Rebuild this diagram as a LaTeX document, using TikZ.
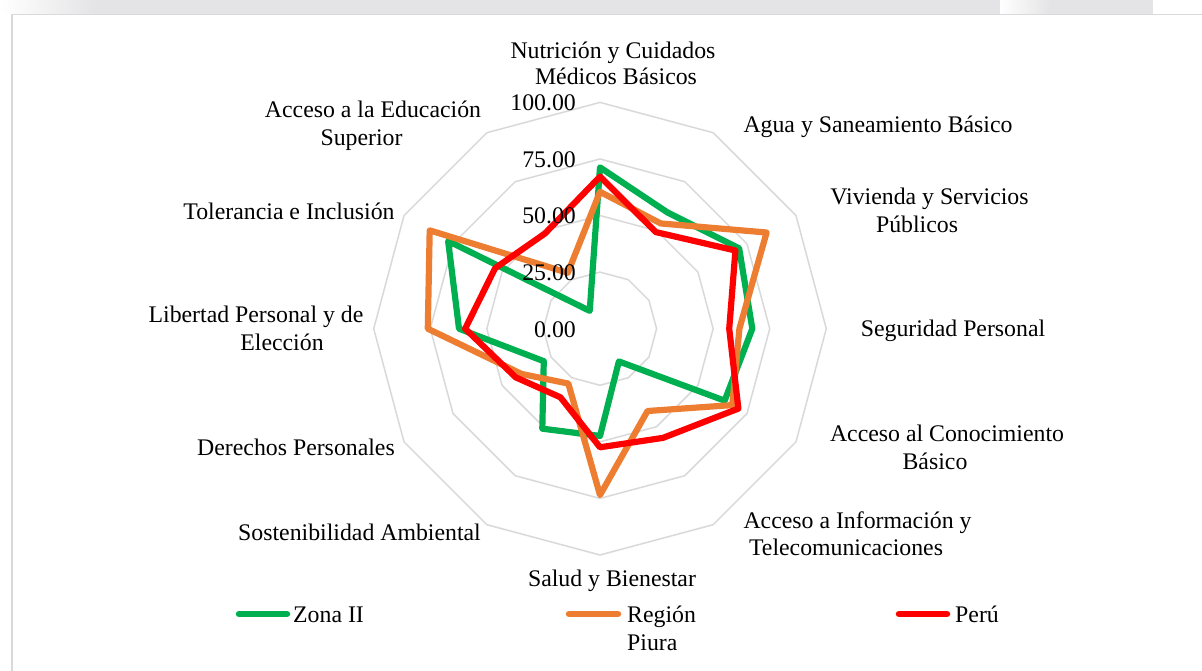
\documentclass[tikz,border=0pt]{standalone}
\usepackage{fontspec}
\setmainfont{Liberation Serif}
\definecolor{zgreen}{HTML}{00B050}
\definecolor{zorange}{HTML}{ED7D31}
\definecolor{zred}{HTML}{FF0000}
\definecolor{gridgray}{HTML}{D9D9D9}
\definecolor{bandgray}{HTML}{E4E4E6}
\begin{document}
\begin{tikzpicture}[x=1pt,y=-1pt,
  lab/.style={font=\fontsize{23.8}{27}\selectfont, inner sep=0pt, anchor=base},
  tick/.style={font=\fontsize{23.8}{27}\selectfont, inner sep=0pt, anchor=base east},
  ring/.style={draw=gridgray, line width=1.5pt, line join=miter},
  series/.style={line width=6.2pt, line join=round},
  legline/.style={line width=6.5pt, line cap=round}]
\useasboundingbox (0,0) rectangle (1202,671);
\clip (0,0) rectangle (1202,671);
\fill[white] (0,0) rectangle (1202,671);
% faded band above the chart
\fill[bandgray] (95,0) rectangle (1000,14);
\shade[left color=white, right color=bandgray] (0,0) rectangle (95,14);
\shade[left color=white, right color=bandgray] (1000,0) rectangle (1050,14);
\fill[bandgray] (1050,0) rectangle (1153,14);
% chart area border
\draw[gridgray, line width=1.6pt] (12,690) -- (12,14.5) -- (1220,14.5);

\begin{scope}[shift={(600,328.7)}, yscale=-1]
  \foreach \r in {56.575,113.15,169.725,226.3}
    \draw[ring] (90:\r) \foreach \a in {60,30,0,-30,-60,-90,-120,-150,-180,-210,-240} { -- (\a:\r) } -- cycle;
  % Zona II
  \foreach \v [count=\i from 0] in {71.3,59.4,71.0,67.3,63.6,16.7,47.4,51.0,28.7,62.3,77.5,9.1}
    \coordinate (g\i) at ({90-30*\i}:{2.263*\v});
  % Region Piura
  \foreach \v [count=\i from 0] in {60.5,53.7,85.0,61.6,67.5,42.0,73.5,28.0,40.0,76.1,86.9,28.5}
    \coordinate (o\i) at ({90-30*\i}:{2.263*\v});
  % Peru
  \foreach \v [count=\i from 0] in {67.2,49.3,69.1,57.1,70.6,55.7,52.4,35.0,43.0,59.6,53.5,48.6}
    \coordinate (r\i) at ({90-30*\i}:{2.263*\v});
  \draw[series, zgreen] (g0) -- (g1) -- (g2) -- (g3) -- (g4) -- (g5) -- (g6) -- (g7) -- (g8) -- (g9) -- (g10) -- (g11) -- cycle;
  \draw[series, zorange] (o0) -- (o1) -- (o2) -- (o3) -- (o4) -- (o5) -- (o6) -- (o7) -- (o8) -- (o9) -- (o10) -- (o11) -- cycle;
  \draw[series, zred] (r0) -- (r1) -- (r2) -- (r3) -- (r4) -- (r5) -- (r6) -- (r7) -- (r8) -- (r9) -- (r10) -- (r11) -- cycle;
\end{scope}

% axis values
\node[tick] (t100) at (576,110.7) {100.00};
\node[tick] (t75) at (576,167.4) {75.00};
\node[tick] (t50) at (576,224.0) {50.00};
\node[tick] (t25) at (576,280.6) {25.00};
\node[tick] (t0) at (576,337.1) {0.00};

% category labels
\node[lab] (lab0a) at (613,59) {Nutrición y Cuidados};
\node[lab] (lab0b) at (616,85) {Médicos Básicos};
\node[lab] (lab1) at (878,133) {Agua y Saneamiento Básico};
\node[lab] (lab2a) at (929.5,205) {Vivienda y Servicios};
\node[lab] (lab2b) at (917,233) {Públicos};
\node[lab] (lab3) at (953,336) {Seguridad Personal};
\node[lab] (lab4a) at (947,441) {Acceso al Conocimiento};
\node[lab] (lab4b) at (935,469) {Básico};
\node[lab] (lab5a) at (857.5,528) {Acceso a Información y};
\node[lab] (lab5b) at (846,555) {Telecomunicaciones};
\node[lab] (lab6) at (612,586) {Salud y Bienestar};
\node[lab] (lab7) at (359.5,540) {Sostenibilidad Ambiental};
\node[lab] (lab8) at (296,455) {Derechos Personales};
\node[lab] (lab9a) at (256,322) {Libertad Personal y de};
\node[lab] (lab9b) at (282,350) {Elección};
\node[lab] (lab10) at (289,219) {Tolerancia e Inclusión};
\node[lab] (lab11a) at (373,118) {Acceso a la Educación};
\node[lab] (lab11b) at (361.5,146) {Superior};

% legend
\coordinate (lg1) at (239,614); \coordinate (lg2) at (287,614);
\coordinate (lo1) at (569,614); \coordinate (lo2) at (618,614);
\coordinate (lr1) at (899,614); \coordinate (lr2) at (947,614);
\draw[legline, zgreen] (lg1) -- (lg2);
\draw[legline, zorange] (lo1) -- (lo2);
\draw[legline, zred] (lr1) -- (lr2);
\node[lab, anchor=base west] (leg1) at (293,622) {Zona II};
\node[lab, anchor=base west] (leg2a) at (627,622) {Región};
\node[lab, anchor=base west] (leg2b) at (627,650) {Piura};
\node[lab, anchor=base west] (leg3) at (955,622) {Perú};
\end{tikzpicture}
\end{document}
